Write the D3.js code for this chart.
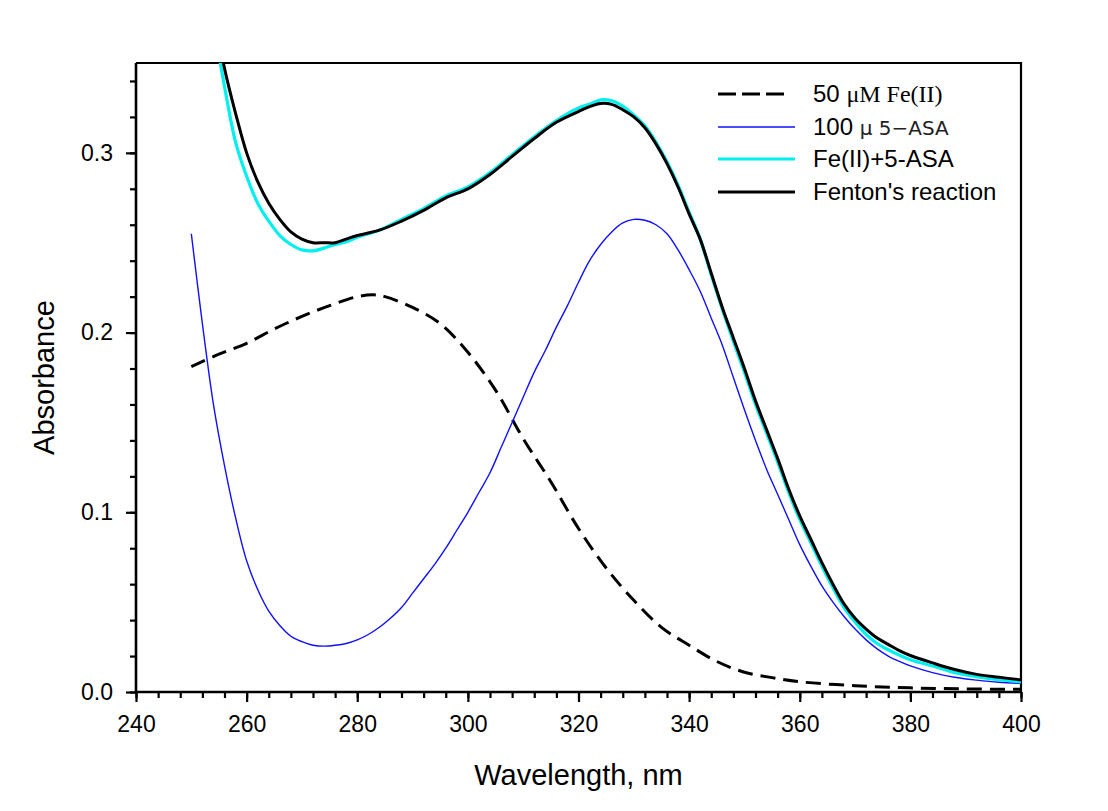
<!DOCTYPE html>
<html>
<head>
<meta charset="utf-8">
<script src="https://cdn.jsdelivr.net/npm/d3@7"></script>
<style>
  html, body { margin: 0; padding: 0; background: #fff; }
  svg { display: block; }
  text { font-family: "Liberation Sans", Arial, sans-serif; fill: #000; }
</style>
</head>
<body>
<svg id="chart" width="1108" height="811"></svg>
<script>
// ---- Data ----
const feWl  = [250,255,260,265,270,275,280,283,285,290,295,300,305,310,315,320,325,330,335,340,345,350,355,360,370,380,390,400];
const feAbs = [0.181,0.188,0.194,0.202,0.209,0.215,0.220,0.221,0.220,0.214,0.205,0.189,0.168,0.141,0.117,0.091,0.069,0.051,0.036,0.026,0.017,0.011,0.008,0.0057,0.0035,0.0023,0.0017,0.0015];

const asaWl  = [250,252,254,256,258,260,262,264,266,268,270,272,274,276,278,280,282,284,286,288,290,292,294,296,298,300,302,304,306,308,310,312,314,316,318,320,322,324,326,328,330,332,334,336,338,340,342,344,346,348,350,352,354,356,358,360,362,364,366,368,370,372,374,376,378,380,384,388,392,396,400];
const asaAbs = [0.255,0.205,0.160,0.126,0.097,0.073,0.057,0.045,0.037,0.031,0.028,0.026,0.0255,0.026,0.027,0.029,0.032,0.036,0.041,0.047,0.055,0.063,0.071,0.080,0.090,0.100,0.111,0.122,0.136,0.150,0.164,0.178,0.190,0.203,0.215,0.228,0.240,0.249,0.256,0.261,0.263,0.2625,0.260,0.255,0.246,0.235,0.223,0.208,0.193,0.175,0.157,0.140,0.124,0.110,0.096,0.082,0.070,0.059,0.050,0.042,0.035,0.029,0.024,0.020,0.017,0.0145,0.0108,0.0082,0.0066,0.0054,0.0048];

const mixWl  = [250,252,254,256,258,260,262,264,266,268,270,272,274,276,278,280,284,288,292,296,300,304,308,312,316,320,322,324,326,328,330,332,334,336,338,340,342,344,346,348,350,352,354,356,358,360,362,364,366,368,370,372,374,376,378,380,384,388,392,396,400];
const mixAbs = [0.45,0.41,0.372,0.337,0.306,0.287,0.272,0.262,0.254,0.249,0.246,0.2455,0.247,0.249,0.2505,0.253,0.257,0.263,0.269,0.276,0.281,0.289,0.299,0.309,0.318,0.325,0.327,0.3295,0.329,0.326,0.321,0.315,0.306,0.295,0.282,0.267,0.252,0.232,0.213,0.195,0.178,0.160,0.144,0.128,0.111,0.096,0.083,0.070,0.058,0.047,0.039,0.032,0.027,0.0235,0.0205,0.018,0.0145,0.0108,0.0085,0.0068,0.0057];

const fentonWl  = [250,252,254,256,258,260,262,264,266,268,270,272,274,276,278,280,284,288,292,296,300,304,308,312,316,320,322,324,326,328,330,332,334,336,338,340,342,344,346,348,350,352,354,356,358,360,362,364,366,368,370,372,374,376,378,380,384,388,392,396,400];
const fentonAbs = [0.46,0.42,0.38,0.347,0.322,0.300,0.284,0.272,0.263,0.256,0.252,0.250,0.250,0.250,0.252,0.254,0.257,0.262,0.268,0.275,0.280,0.288,0.298,0.308,0.317,0.323,0.3257,0.3275,0.327,0.324,0.320,0.314,0.305,0.294,0.281,0.266,0.252,0.233,0.214,0.197,0.180,0.162,0.146,0.130,0.113,0.098,0.085,0.072,0.060,0.049,0.041,0.035,0.030,0.0265,0.023,0.0203,0.0162,0.0125,0.0098,0.0082,0.0067];

const xTicks = [240,260,280,300,320,340,360,380,400];
const yTicks = [0.0,0.1,0.2,0.3];
const legendLabels = ["50 ", "100 ", "Fe(II)+5-ASA", "Fenton's reaction"];

// ---- Layout ----
const svg = d3.select("#chart");
const L = 136, R = 1021, T = 63, B = 692;
const x = d3.scaleLinear().domain([240, 400]).range([L, R]);
const y = d3.scaleLinear().domain([0, 0.35]).range([B, T]);

svg.append("defs").append("clipPath").attr("id", "clip")
  .append("rect").attr("x", L).attr("y", T).attr("width", R - L).attr("height", B - T);

// frame (top & right)
svg.append("path")
  .attr("d", `M${L},${T}H${R}V${B}`)
  .attr("fill", "none").attr("stroke", "#000").attr("stroke-width", 2.2);

// minor ticks
const xMinor = d3.range(240, 400.01, 4);
const yMinor = d3.range(0, 0.3501, 0.02);

const gx = svg.append("g").attr("transform", `translate(0,${B})`);
gx.call(d3.axisBottom(x).tickValues(xMinor).tickSize(6).tickFormat(""));
gx.call(g => g.selectAll(".domain").remove());
gx.selectAll("line").attr("stroke-width", 2.2);
const gx2 = svg.append("g").attr("transform", `translate(0,${B})`);
gx2.call(d3.axisBottom(x).tickValues(xTicks).tickSize(10).tickPadding(14).tickFormat(d3.format("d")));
gx2.select(".domain").remove();
gx2.selectAll("line").attr("stroke-width", 2.2);
gx2.selectAll("text").attr("font-size", 23).attr("font-family", "Liberation Sans, Arial, sans-serif");

const gy = svg.append("g").attr("transform", `translate(${L},0)`);
gy.call(d3.axisLeft(y).tickValues(yMinor).tickSize(6).tickFormat(""));
gy.call(g => g.selectAll(".domain").remove());
gy.selectAll("line").attr("stroke-width", 2.2);
const gy2 = svg.append("g").attr("transform", `translate(${L},0)`);
gy2.call(d3.axisLeft(y).tickValues(yTicks).tickSize(10).tickPadding(13).tickFormat(d3.format(".1f")));
gy2.select(".domain").remove();
gy2.selectAll("line").attr("stroke-width", 2.2);
gy2.selectAll("text").attr("font-size", 23).attr("font-family", "Liberation Sans, Arial, sans-serif");

// axis lines (left & bottom)
svg.append("path")
  .attr("d", `M${L},${T}V${B}H${R}`)
  .attr("fill", "none").attr("stroke", "#000").attr("stroke-width", 2.6);

// ---- Series ----
const line = d3.line().x(d => x(d[0])).y(d => y(d[1])).curve(d3.curveCatmullRom.alpha(0.5));
const plot = svg.append("g").attr("clip-path", "url(#clip)");

const series = [
  { wl: feWl, abs: feAbs, color: "#000", width: 3, dash: "15,8" },
  { wl: asaWl, abs: asaAbs, color: "#1010ff", width: 1.4, dash: null },
  { wl: mixWl, abs: mixAbs, color: "#00f0f0", width: 3.2, dash: null },
  { wl: fentonWl, abs: fentonAbs, color: "#000", width: 3, dash: null }
];
series.forEach(s => {
  plot.append("path")
    .datum(d3.zip(s.wl, s.abs))
    .attr("d", line)
    .attr("fill", "none")
    .attr("stroke", s.color)
    .attr("stroke-width", s.width)
    .attr("stroke-dasharray", s.dash)
    .attr("stroke-linejoin", "round");
});

// ---- Axis titles ----
svg.append("text").attr("x", (L + R) / 2).attr("y", 785)
  .attr("text-anchor", "middle").attr("font-size", 29).text("Wavelength, nm");
svg.append("text").attr("transform", `translate(54,${(T + B) / 2}) rotate(-90)`)
  .attr("text-anchor", "middle").attr("font-size", 29).text("Absorbance");

// ---- Legend ----
const lg = svg.append("g");
const rowsY = [94, 127, 159, 192];
series.forEach((s, i) => {
  lg.append("line")
    .attr("x1", 718).attr("x2", i === 0 ? 787 : 795)
    .attr("y1", rowsY[i]).attr("y2", rowsY[i])
    .attr("stroke", s.color).attr("stroke-width", i === 1 ? 1.6 : 3.2)
    .attr("stroke-dasharray", i === 0 ? "18,6" : null);
});
const t0 = lg.append("text").attr("x", 813).attr("y", rowsY[0] + 8).attr("font-size", 24);
t0.append("tspan").text(legendLabels[0]);
t0.append("tspan").attr("font-family", "Liberation Serif, Times New Roman, serif").text("\u03BCM Fe(II)");
const t1 = lg.append("text").attr("x", 813).attr("y", rowsY[1] + 8).attr("font-size", 24);
t1.append("tspan").text(legendLabels[1]);
t1.append("tspan").attr("font-family", "DejaVu Sans, sans-serif").attr("font-size", 20).attr("fill", "#222").text("\u03BC 5\u2212ASA");
lg.append("text").attr("x", 813).attr("y", rowsY[2] + 8).attr("font-size", 24).text(legendLabels[2]);
lg.append("text").attr("x", 813).attr("y", rowsY[3] + 8).attr("font-size", 24).text(legendLabels[3]);
</script>
</body>
</html>
